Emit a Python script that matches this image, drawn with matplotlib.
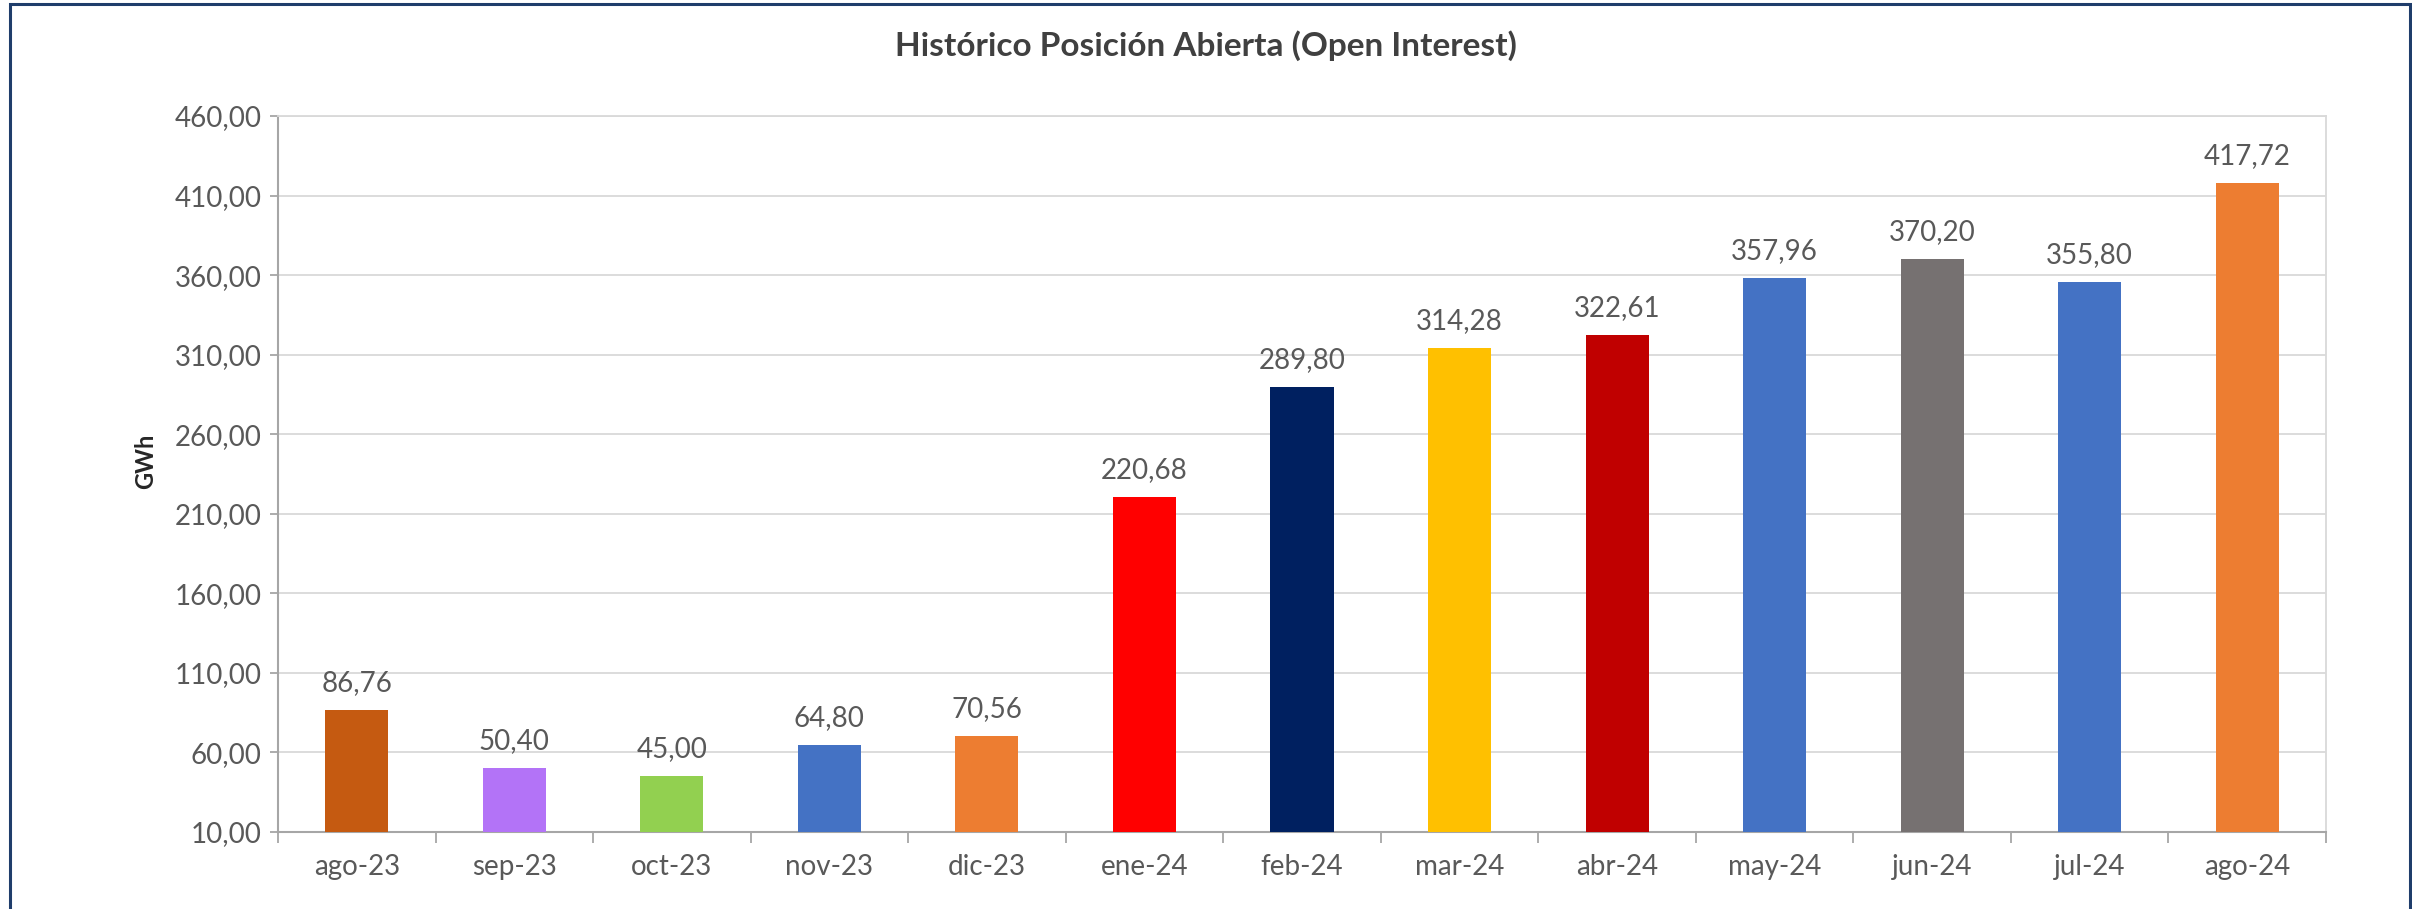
import matplotlib
matplotlib.use("Agg")
import matplotlib.pyplot as plt
from matplotlib.patches import Rectangle
from matplotlib.ticker import FixedLocator, FuncFormatter, NullFormatter

categories = ["ago-23", "sep-23", "oct-23", "nov-23", "dic-23", "ene-24", "feb-24",
              "mar-24", "abr-24", "may-24", "jun-24", "jul-24", "ago-24"]
values = [86.76, 50.40, 45.00, 64.80, 70.56, 220.68, 289.80,
          314.28, 322.61, 357.96, 370.20, 355.80, 417.72]
bar_colors = ["#C55A11", "#B373F7", "#92D050", "#4472C4", "#ED7D31", "#FF0000", "#002060",
              "#FFC000", "#C00000", "#4472C4", "#767171", "#4472C4", "#ED7D31"]
title = "Histórico Posición Abierta (Open Interest)"
y_label = "GWh"
y_ticks = [10, 60, 110, 160, 210, 260, 310, 360, 410, 460]

plt.rcParams['font.family'] = ['Lato', 'DejaVu Sans']

W, H = 2412, 909
fig = plt.figure(figsize=(W / 100, H / 100), dpi=100)
fig.patch.set_facecolor("white")

ax = fig.add_axes([278 / W, 1 - 832 / H, (2326 - 278) / W, (832 - 116) / H])

x = list(range(len(categories)))
base = y_ticks[0]
bars = ax.bar(x, [v - base for v in values], bottom=base, width=0.40, color=bar_colors, zorder=3)

ax.set_xlim(-0.5, len(categories) - 0.5)
ax.set_ylim(y_ticks[0], y_ticks[-1])

ax.yaxis.set_major_locator(FixedLocator(y_ticks))
ax.yaxis.set_major_formatter(FuncFormatter(lambda v, p: f"{v:.2f}".replace(".", ",")))
ax.grid(axis="y", color="#D9D9D9", linewidth=1.3, zorder=0)

ax.set_xticks(x)
ax.set_xticklabels(categories)
ax.xaxis.set_minor_locator(FixedLocator([i - 0.5 for i in range(len(categories) + 1)]))
ax.xaxis.set_minor_formatter(NullFormatter())
ax.tick_params(axis="x", which="major", length=0, pad=16, labelsize=20, labelcolor="#595959")
ax.tick_params(axis="x", which="minor", length=8, width=1.3, color="#A6A6A6")
ax.tick_params(axis="y", which="major", length=6, width=1.3, color="#A6A6A6", pad=6,
               labelsize=20, labelcolor="#595959")

for s in ["left", "bottom"]:
    ax.spines[s].set_color("#A6A6A6")
    ax.spines[s].set_linewidth(1.5)
for s in ["top", "right"]:
    ax.spines[s].set_color("#D9D9D9")
    ax.spines[s].set_linewidth(1.3)

for xi, v in zip(x, values):
    ax.annotate(f"{v:.2f}".replace(".", ","), xy=(xi, v), xytext=(0, 10),
                textcoords="offset points", ha="center", va="bottom",
                fontsize=20, color="#595959", zorder=4)

fig.text(0.5, 1 - 46 / H, title, ha="center", va="center", fontsize=24,
         fontweight="bold", color="#404040")
fig.text(146 / W, 1 - 461 / H, y_label, ha="center", va="center", rotation=90,
         fontsize=17, fontweight="bold", color="#262626")

# outer border (bottom edge lies beyond the image)
fig.patches.append(Rectangle((10 / W, -0.05), (2410 - 10) / W, 1 - 4 / H + 0.05,
                             transform=fig.transFigure, fill=False,
                             edgecolor="#1F3D6B", linewidth=2.2))

fig.savefig("out.png", dpi=100, facecolor="white")
